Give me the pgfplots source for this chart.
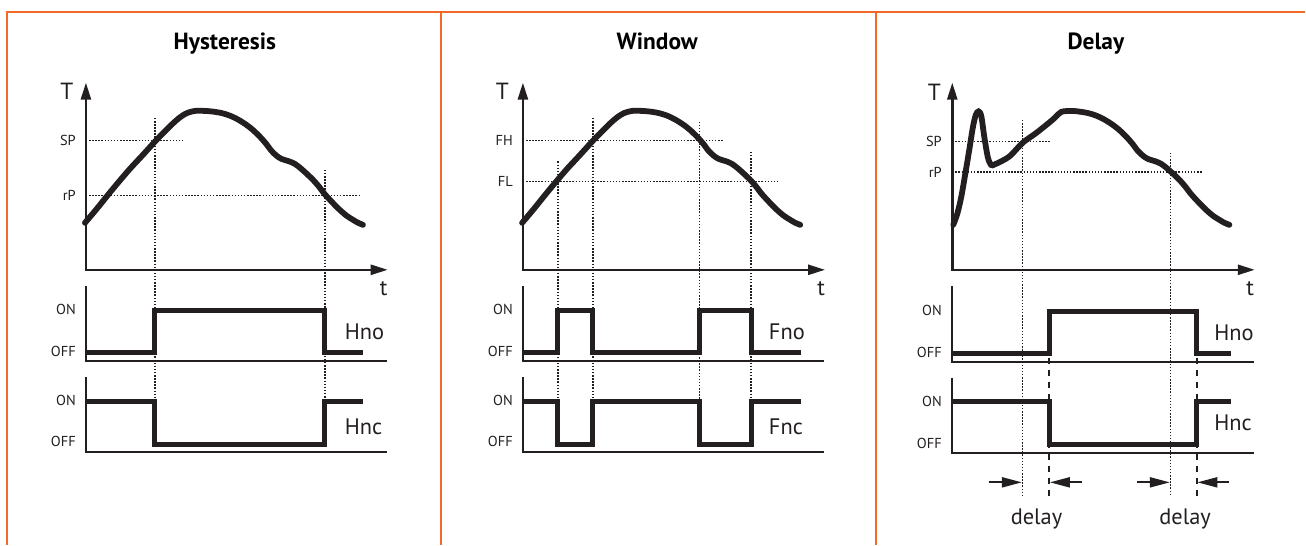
\documentclass[border=0pt]{standalone}
\usepackage{fontspec}
\setmainfont{PT Sans}
\usepackage{pgfplots}
\pgfplotsset{compat=1.18}
\usepackage{pgfplotstable}
\usetikzlibrary{arrows.meta}

\definecolor{frame}{RGB}{241,106,40}
\definecolor{ink}{RGB}{35,31,32}

% temperature curve of the first panel, in pixels (y downwards)
\pgfplotstableread{
x y
85 223
96 210
106.7 196.7
118 183
130 169
143 155
156 140.7
165 131.5
173.3 123.3
180 117.5
186.7 113.3
195 111
205 111
213.3 111.7
222 113.2
230 115.7
238 119.5
246.7 125
253 130
260 136.7
266 143.5
271.7 151
277 156
281.7 159
290 161.7
295 164
300 167.7
306 173
313.3 180
319 186.5
325 194.3
333 203
340 210
347 216
353.3 220
358 222.8
363.3 225
}\curve

\pgfplotsset{
  tcurve/.style={ink, line width=5.8bp, smooth, line cap=round},
  signal/.style={ink, line width=5bp, line join=miter},
  sigaxis/.style={ink, line width=2bp},
  taxis/.style={ink, line width=2.5bp,
    {Triangle[length=17bp,width=10bp]}-{Triangle[length=17bp,width=10bp]}},
  guide/.style={ink, line width=1.5bp, dash pattern=on 1.5bp off 1.6bp},
  dguide/.style={ink, line width=1.6bp, dash pattern=on 6bp off 6bp},
  delayarrow/.style={ink, line width=2bp, -{Triangle[length=20bp,width=10bp]}},
}

\tikzset{
  title/.style={font=\fontsize{23.5}{27}\selectfont\bfseries, anchor=base, inner sep=0pt},
  small/.style={font=\fontsize{14.5}{16}\selectfont, anchor=east, inner sep=0pt, text=ink},
  big/.style={font=\fontsize{22.5}{26}\selectfont, inner sep=0pt, text=ink},
}

\begin{document}
\begin{tikzpicture}
\begin{axis}[
    hide axis,
    scale only axis,
    width=1306bp, height=545bp,
    xmin=0, xmax=1306,
    ymin=0, ymax=545,
    y dir=reverse,
    clip=false,
]
\addplot[draw=none] coordinates {(0,0) (1306,545)};

% frame
\addplot[frame, line width=2bp] coordinates {(7,545) (7,12) (1306,12)};
\addplot[frame, line width=2bp] coordinates {(441,12) (441,545)};
\addplot[frame, line width=2bp] coordinates {(877,12) (877,545)};

% ---------- Hysteresis ----------
\addplot[guide] coordinates {(86,140.8) (184,140.8)};
\addplot[guide] coordinates {(86,195.7) (359,195.7)};
\addplot[guide] coordinates {(155,118) (155,400)};
\addplot[guide] coordinates {(325,170) (325,400)};
\addplot[taxis] coordinates {(86,82.7) (86,270) (388,270)};
\addplot[tcurve] table[x=x, y=y] {\curve};
\addplot[sigaxis] coordinates {(86,286) (86,361.5) (387,361.5)};
\addplot[sigaxis] coordinates {(86,377.5) (86,452.5) (387,452.5)};
\addplot[signal] coordinates {(86,353) (155,353) (155,311) (325,311) (325,353) (363,353)};
\addplot[signal] coordinates {(86,401.5) (155,401.5) (155,444.5) (325,444.5) (325,401.5) (363,401.5)};

% ---------- Window ----------
\addplot[guide] coordinates {(523.3,140.8) (723.3,140.8)};
\addplot[guide] coordinates {(523.3,181.8) (778.3,181.8)};
\addplot[guide] coordinates {(558.3,161.6) (558.3,400)};
\addplot[guide] coordinates {(593.3,118) (593.3,400)};
\addplot[guide] coordinates {(700,121.7) (700,400)};
\addplot[guide] coordinates {(751.7,152) (751.7,400)};
\addplot[taxis] coordinates {(523.3,82.7) (523.3,270) (825.7,270)};
\addplot[tcurve] table[x expr=\thisrow{x}+437.5, y=y] {\curve};
\addplot[sigaxis] coordinates {(523.3,286) (523.3,361.5) (825,361.5)};
\addplot[sigaxis] coordinates {(523.3,377.5) (523.3,452.5) (825,452.5)};
\addplot[signal] coordinates {(523.3,353) (558.3,353) (558.3,311) (593.3,311) (593.3,353)
    (700,353) (700,311) (751.7,311) (751.7,353) (801.7,353)};
\addplot[signal] coordinates {(523.3,401.5) (558.3,401.5) (558.3,444.5) (593.3,444.5) (593.3,401.5)
    (700,401.5) (700,444.5) (751.7,444.5) (751.7,401.5) (801.7,401.5)};

% ---------- Delay ----------
\addplot[guide] coordinates {(953,141.7) (1051.7,141.7)};
\addplot[guide] coordinates {(953,172.3) (1203.3,172.3)};
\addplot[guide] coordinates {(1023.3,120) (1023.3,496)};
\addplot[guide] coordinates {(1171.5,153) (1171.5,496)};
\addplot[dguide] coordinates {(1050,358) (1050,496)};
\addplot[dguide] coordinates {(1197.7,358) (1197.7,496)};
\addplot[taxis] coordinates {(953,82.7) (953,270) (1255.7,270)};
\addplot[tcurve] coordinates {
    (954,225) (958,214) (962,197) (966,174) (970,150) (973.5,128) (976.5,115)
    (979.3,111.5) (982,116) (985,136.7) (988.5,157) (991.7,165) (996,164.3)
    (1010,156.7) (1023.3,143) (1036.7,133.3) (1050,122.7) (1056,117.5)
    (1062,112) (1072,111) (1080.3,111.7) (1089,113.2) (1097,115.7) (1105,119.5)
    (1113.7,125) (1120,130) (1127,136.7) (1133,143.5) (1138.7,151) (1144,156)
    (1148.7,159) (1157,161.7) (1162,164) (1167,167.7) (1173,173) (1180.3,180)
    (1186,186.5) (1192,194.3) (1200,203) (1207,210) (1214,216) (1220.3,220)
    (1225,222.8) (1230.3,225)};
\addplot[sigaxis] coordinates {(953,286.5) (953,362) (1255,362)};
\addplot[sigaxis] coordinates {(953,378) (953,453) (1255,453)};
\addplot[signal] coordinates {(953,353.5) (1050,353.5) (1050,311.5) (1197.7,311.5) (1197.7,353.5) (1231.7,353.5)};
\addplot[signal] coordinates {(953,402) (1050,402) (1050,444.5) (1197.7,444.5) (1197.7,402) (1231.7,402)};
\addplot[delayarrow] coordinates {(989.3,482.7) (1022.7,482.7)};
\addplot[delayarrow] coordinates {(1083.3,482.7) (1050.7,482.7)};
\addplot[delayarrow] coordinates {(1138.3,482.7) (1170.7,482.7)};
\addplot[delayarrow] coordinates {(1230,482.7) (1198.3,482.7)};

% ---------- texts ----------
\node[title] at (225,49.4) {Hysteresis};
\node[title] at (657.7,49.4) {Window};
\node[title] at (1096.7,49.4) {Delay};

\node[big, font=\fontsize{23.5}{26}\selectfont] at (67,91) {T};
\node[big, font=\fontsize{23.5}{26}\selectfont] at (502.7,91) {T};
\node[big, font=\fontsize{23.5}{26}\selectfont] at (935,92) {T};
\node[big] at (384,288.5) {t};
\node[big] at (821.7,288.5) {t};
\node[big] at (1251,288.5) {t};

\node[small] at (76,140.8) {SP};
\node[small] at (76,195.7) {rP};
\node[small] at (76,309.4) {ON};
\node[small] at (76,351.8) {OFF};
\node[small] at (76,400.4) {ON};
\node[small] at (76,442) {OFF};
\node[big, anchor=west] at (345,332) {Hno};
\node[big, anchor=west] at (345,427.5) {Hnc};

\node[small] at (513.3,140.8) {FH};
\node[small] at (513.3,181.8) {FL};
\node[small] at (513.3,309.4) {ON};
\node[small] at (513.3,351.8) {OFF};
\node[small] at (513.3,400.4) {ON};
\node[small] at (513.3,442) {OFF};
\node[big, anchor=west] at (769.3,332) {Fno};
\node[big, anchor=west] at (769.3,427.5) {Fnc};

\node[small] at (942.7,141.7) {SP};
\node[small] at (942.7,172.3) {rP};
\node[small] at (942.7,310.4) {ON};
\node[small] at (942.7,352.8) {OFF};
\node[small] at (942.7,401.5) {ON};
\node[small] at (942.7,444.2) {OFF};
\node[big, anchor=west] at (1215,333) {Hno};
\node[big, anchor=west] at (1215,423.4) {Hnc};

\node[big, anchor=base] at (1037.3,525) {delay};
\node[big, anchor=base] at (1186,525) {delay};
\end{axis}
\end{tikzpicture}
\end{document}
